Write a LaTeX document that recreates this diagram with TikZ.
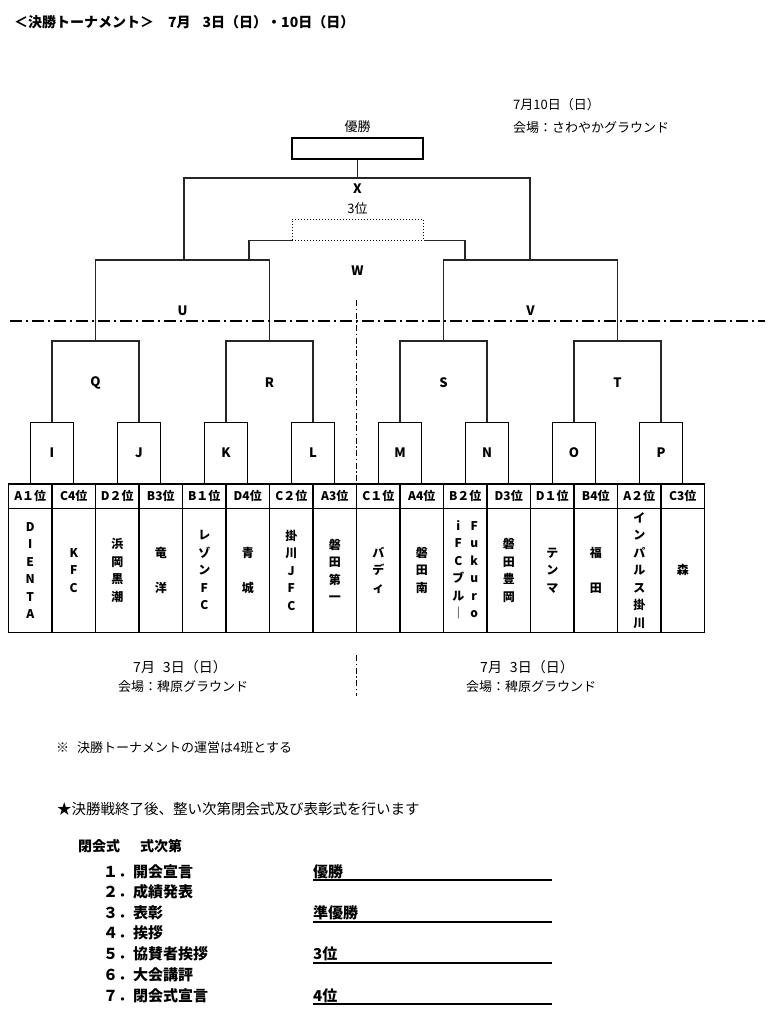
\documentclass[tikz,border=0pt]{standalone}
\usepackage{fontspec}
\setmainfont{Noto Sans CJK JP}
\usepackage{tikz}
\usetikzlibrary{positioning}

\begin{document}
\begin{tikzpicture}[
  x=1pt, y=-1pt,
  bracket/.style={draw=black!85, line width=1.3pt},
  matchbox/.style={rectangle, draw, line width=1.3pt, anchor=south, minimum width=43.5pt, minimum height=61pt, inner sep=0pt, font=\fontsize{13}{15}\selectfont\bfseries},
  round/.style={font=\fontsize{13}{15}\selectfont\bfseries, inner sep=0pt},
  headcell/.style={rectangle, draw, line width=1.4pt, outer sep=0pt, inner sep=0pt, minimum width=43.5pt, minimum height=24.3pt, font=\fontsize{12}{14}\selectfont\bfseries},
  teamcell/.style={rectangle, draw, line width=1.4pt, outer sep=0pt, inner sep=0pt, align=center, minimum width=43.5pt, minimum height=124pt, font=\fontsize{12}{17.5}\selectfont\bfseries},
  plain/.style={font=\fontsize{13}{15}\selectfont, inner sep=0pt},
  strong/.style={font=\fontsize{15}{17}\selectfont\bfseries, inner sep=0pt},
  divider/.style={line width=1.2pt, dash pattern=on 12pt off 4pt on 2pt off 4pt},
  split/.style={line width=1.2pt, dash pattern=on 6pt off 2.5pt on 1.5pt off 2.5pt},
  rule/.style={line width=2pt}
]
\useasboundingbox (0,0) rectangle (770,1013);

% ---------------------------------------------------
% Coordinate Grid
% ---------------------------------------------------
\def\yX{178}
\def\yW{240}
\def\yUV{260}
\def\yQT{341}
\def\yTable{484}

% ---------------------------------------------------
% 1. Heading & dates
% ---------------------------------------------------
\node[font=\fontsize{14}{16}\selectfont\bfseries, inner sep=0pt, anchor=west] (title) at (14,22) {＜決勝トーナメント＞\hspace{14pt}7月\hspace{12pt}3日（日）・10日（日）};

\node[plain, anchor=west] (finalday) at (513,105) {7月10日（日）};
\node[plain, anchor=west] (finalvenue) at (513,128) {会場：さわやかグラウンド};

% ---------------------------------------------------
% 2. Final & 3rd place boxes
% ---------------------------------------------------
\node[rectangle, draw, line width=2.6pt, minimum width=131pt, minimum height=21pt, inner sep=0pt] (champ) at (357.5,148.5) {};
\node[plain, above=4pt of champ] (champlabel) {優勝};

\node[rectangle, draw, dotted, line width=1pt, minimum width=131pt, minimum height=21pt, inner sep=0pt] (third) at (357.5,229.5) {};
\node[plain, above=4pt of third] (thirdlabel) {3位};

% ---------------------------------------------------
% 3. Table of teams (left to right)
% ---------------------------------------------------
\node[headcell, anchor=north west] (h1) at (8.5,\yTable) {A１位};
\node[headcell, right=0pt of h1] (h2) {C4位};
\node[headcell, right=0pt of h2] (h3) {D２位};
\node[headcell, right=0pt of h3] (h4) {B3位};
\node[headcell, right=0pt of h4] (h5) {B１位};
\node[headcell, right=0pt of h5] (h6) {D4位};
\node[headcell, right=0pt of h6] (h7) {C２位};
\node[headcell, right=0pt of h7] (h8) {A3位};
\node[headcell, right=0pt of h8] (h9) {C１位};
\node[headcell, right=0pt of h9] (h10) {A4位};
\node[headcell, right=0pt of h10] (h11) {B２位};
\node[headcell, right=0pt of h11] (h12) {D3位};
\node[headcell, right=0pt of h12] (h13) {D１位};
\node[headcell, right=0pt of h13] (h14) {B4位};
\node[headcell, right=0pt of h14] (h15) {A２位};
\node[headcell, right=0pt of h15] (h16) {C3位};

\node[teamcell, below=0pt of h1] (t1) {D\\I\\E\\N\\T\\A};
\node[teamcell, below=0pt of h2] (t2) {K\\F\\C};
\node[teamcell, below=0pt of h3] (t3) {浜\\岡\\黒\\潮};
\node[teamcell, below=0pt of h4] (t4) {竜\\[17.5pt]洋};
\node[teamcell, below=0pt of h5] (t5) {レ\\ゾ\\ン\\F\\C};
\node[teamcell, below=0pt of h6] (t6) {青\\[17.5pt]城};
\node[teamcell, below=0pt of h7] (t7) {掛\\川\\J\\F\\C};
\node[teamcell, below=0pt of h8] (t8) {磐\\田\\第\\一};
\node[teamcell, below=0pt of h9] (t9) {バ\\デ\\ィ};
\node[teamcell, below=0pt of h10] (t10) {磐\\田\\南};
\node[teamcell, below=0pt of h11] (t11) {\begin{tabular}{@{}c@{\hspace{6pt}}c@{}}i&F\\F&u\\C&k\\ブ&u\\ル&r\\｜&o\end{tabular}};
\node[teamcell, below=0pt of h12] (t12) {磐\\田\\豊\\岡};
\node[teamcell, below=0pt of h13] (t13) {テ\\ン\\マ};
\node[teamcell, below=0pt of h14] (t14) {福\\[17.5pt]田};
\node[teamcell, below=0pt of h15] (t15) {イ\\ン\\パ\\ル\\ス\\掛\\川};
\node[teamcell, below=0pt of h16] (t16) {森};

% ---------------------------------------------------
% 4. First round boxes (between column pairs)
% ---------------------------------------------------
\node[matchbox] (I) at (h1.north east) {I};
\node[matchbox] (J) at (h3.north east) {J};
\node[matchbox] (K) at (h5.north east) {K};
\node[matchbox] (L) at (h7.north east) {L};
\node[matchbox] (M) at (h9.north east) {M};
\node[matchbox] (N) at (h11.north east) {N};
\node[matchbox] (O) at (h13.north east) {O};
\node[matchbox] (P) at (h15.north east) {P};

% bracket tops
\coordinate (qtop) at (95.5,\yQT);
\coordinate (rtop) at (269.5,\yQT);
\coordinate (stop) at (443.5,\yQT);
\coordinate (ttop) at (617.5,\yQT);
\coordinate (utop) at (182.5,\yUV);
\coordinate (vtop) at (530.5,\yUV);
\coordinate (wleft) at (249,\yUV);
\coordinate (wright) at (465,\yUV);
\coordinate (xleft) at (184,\yUV);
\coordinate (xright) at (530,\yUV);
\coordinate (xtop) at (357.5,\yX);

% round labels
\node[round] (Q) at (95.5,383) {Q};
\node[round] (R) at (269.5,383) {R};
\node[round] (S) at (443.5,383) {S};
\node[round] (T) at (617.5,383) {T};
\node[round] (U) at (182.5,311) {U};
\node[round] (V) at (530.5,311) {V};
\node[round] (W) at (357.5,271) {W};
\node[round] (X) at (357.5,189) {X};

% ---------------------------------------------------
% Draw Connections
% ---------------------------------------------------
\draw[bracket] (I.north) |- (qtop) -| (J.north);
\draw[bracket] (K.north) |- (rtop) -| (L.north);
\draw[bracket] (M.north) |- (stop) -| (N.north);
\draw[bracket] (O.north) |- (ttop) -| (P.north);

\draw[bracket] (qtop) |- (utop) -| (rtop);
\draw[bracket] (stop) |- (vtop) -| (ttop);

\draw[bracket] (wleft) |- (third.south west);
\draw[bracket] (third.south east) -| (wright);

\draw[bracket] (xleft) |- (xtop) -| (xright);
\draw[bracket] (champ.south) -- (xtop);

% ---------------------------------------------------
% 5. Dividers & venues
% ---------------------------------------------------
\draw[divider] (10,321) -- (765,321);
\draw[split] (356.5,300) -- (h8.south east);
\draw[split] (356.5,655) -- (356.5,696);

\node[plain, font=\fontsize{14}{16}\selectfont] (leftday) at (180,667) {7月\hspace{8pt}3日（日）};
\node[plain] (leftvenue) at (183,687) {会場：稗原グラウンド};
\node[plain, font=\fontsize{14}{16}\selectfont] (rightday) at (527,667) {7月\hspace{8pt}3日（日）};
\node[plain] (rightvenue) at (531,687) {会場：稗原グラウンド};

% ---------------------------------------------------
% 6. Notes & closing ceremony
% ---------------------------------------------------
\node[plain, anchor=west] (note) at (56,748) {※\hspace{8pt}決勝トーナメントの運営は4班とする};
\node[plain, font=\fontsize{14.5}{17}\selectfont, anchor=west] (notice) at (57,809) {★決勝戦終了後、整い次第閉会式及び表彰式を行います};

\node[strong, font=\fontsize{14}{16}\selectfont\bfseries, anchor=west] (ceremony) at (78,846) {閉会式\hspace{20pt}式次第};
\node[strong, anchor=west] (item1) at (103,872) {１．開会宣言};
\node[strong, anchor=west] (item2) at (103,892) {２．成績発表};
\node[strong, anchor=west] (item3) at (103,913) {３．表彰};
\node[strong, anchor=west] (item4) at (103,933) {４．挨拶};
\node[strong, anchor=west] (item5) at (103,954) {５．協賛者挨拶};
\node[strong, anchor=west] (item6) at (103,975) {６．大会講評};
\node[strong, anchor=west] (item7) at (103,996) {７．閉会式宣言};

\node[strong, anchor=west] (prize1) at (313,872) {優勝};
\node[strong, anchor=west] (prize2) at (313,913) {準優勝};
\node[strong, anchor=west] (prize3) at (313,954) {3位};
\node[strong, anchor=west] (prize4) at (313,996) {4位};

\draw[rule] (313,880) -- (552,880);
\draw[rule] (313,921.5) -- (552,921.5);
\draw[rule] (313,963) -- (552,963);
\draw[rule] (313,1004) -- (552,1004);

\end{tikzpicture}
\end{document}
